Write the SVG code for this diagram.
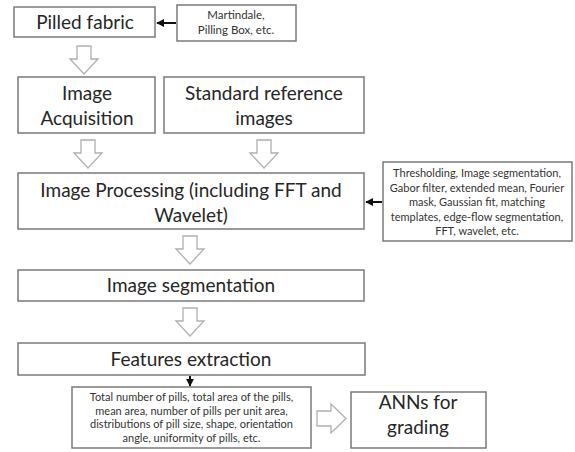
<svg xmlns="http://www.w3.org/2000/svg" width="575" height="452" viewBox="0 0 575 452">
<defs>
<style>
.box{fill:#fff;stroke:#7a7a7a;stroke-width:1.5}
.big{font-family:Lato,"Open Sans",sans-serif;font-size:19px;fill:#262626;text-anchor:middle}
.sm{font-family:Lato,"Open Sans",sans-serif;font-size:11px;fill:#333;text-anchor:middle}
.hollow{fill:#fff;stroke:#b0b0b0;stroke-width:1.3;stroke-linejoin:miter}
.line{stroke:#111;stroke-width:2;fill:none}
</style>
<marker id="ah" viewBox="0 0 10 10" refX="9" refY="5" markerWidth="4" markerHeight="4" orient="auto">
<path d="M0,0 L10,5 L0,10 z" fill="#111"/>
</marker>
<path id="dn" d="M-7,0 H7 V13 H14 L0,28 L-14,13 H-7 Z"/>
</defs>
<rect width="575" height="452" fill="#fff"/>

<g id="pilled">
<rect class="box" x="14" y="7" width="141" height="30"/>
<text class="big" x="85" y="29">Pilled fabric</text>
</g>
<g id="martindale">
<rect class="box" x="177" y="5" width="119" height="36"/>
<text class="sm" x="236" y="19" style="font-size:11.5px">Martindale,</text>
<text class="sm" x="236" y="34" style="font-size:11.5px">Pilling Box, etc.</text>
</g>
<g id="acquisition">
<rect class="box" x="18" y="77" width="137" height="56"/>
<text class="big" x="87" y="100">Image</text>
<text class="big" x="87" y="125">Acquisition</text>
</g>
<g id="standard">
<rect class="box" x="164" y="77" width="200" height="56"/>
<text class="big" x="264" y="100">Standard reference</text>
<text class="big" x="264" y="125">images</text>
</g>
<g id="processing">
<rect class="box" x="18" y="173" width="346" height="56"/>
<text class="big" x="191" y="197">Image Processing (including FFT and</text>
<text class="big" x="191" y="222">Wavelet)</text>
</g>
<g id="methods">
<rect class="box" x="383" y="162" width="189" height="79"/>
<text class="sm" x="477" y="177">Thresholding, Image segmentation,</text>
<text class="sm" x="477" y="191.5">Gabor filter, extended mean, Fourier</text>
<text class="sm" x="477" y="206">mask, Gaussian fit, matching</text>
<text class="sm" x="477" y="220.5">templates, edge-flow segmentation,</text>
<text class="sm" x="477" y="235">FFT, wavelet, etc.</text>
</g>
<g id="segmentation">
<rect class="box" x="18" y="270" width="346" height="31"/>
<text class="big" x="191" y="292">Image segmentation</text>
</g>
<g id="features">
<rect class="box" x="18" y="343" width="347" height="32"/>
<text class="big" x="191" y="366">Features extraction</text>
</g>
<g id="details">
<rect class="box" x="72" y="387" width="239" height="61"/>
<text class="sm" x="191.5" y="401">Total number of pills, total area of the pills,</text>
<text class="sm" x="191.5" y="414.5">mean area, number of pills per unit area,</text>
<text class="sm" x="191.5" y="428">distributions of pill size, shape, orientation</text>
<text class="sm" x="191.5" y="441.5">angle, uniformity of pills, etc.</text>
</g>
<g id="anns">
<rect class="box" x="351" y="392" width="135" height="56"/>
<text class="big" x="418" y="409">ANNs for</text>
<text class="big" x="418" y="434">grading</text>
</g>

<g id="connectors">
<line class="line" x1="176" y1="23" x2="157" y2="23" marker-end="url(#ah)"/>
<line class="line" x1="382" y1="202" x2="366" y2="202" marker-end="url(#ah)"/>
<line class="line" x1="190" y1="376" x2="190" y2="386" marker-end="url(#ah)"/>
<use href="#dn" class="hollow" x="84" y="46"/>
<use href="#dn" class="hollow" x="88" y="140"/>
<use href="#dn" class="hollow" x="264" y="140"/>
<use href="#dn" class="hollow" x="190" y="236"/>
<use href="#dn" class="hollow" x="190" y="308"/>
<path class="hollow" d="M317,411 H331 V404 L346,418.5 L331,433 V426 H317 Z"/>
</g>
</svg>
